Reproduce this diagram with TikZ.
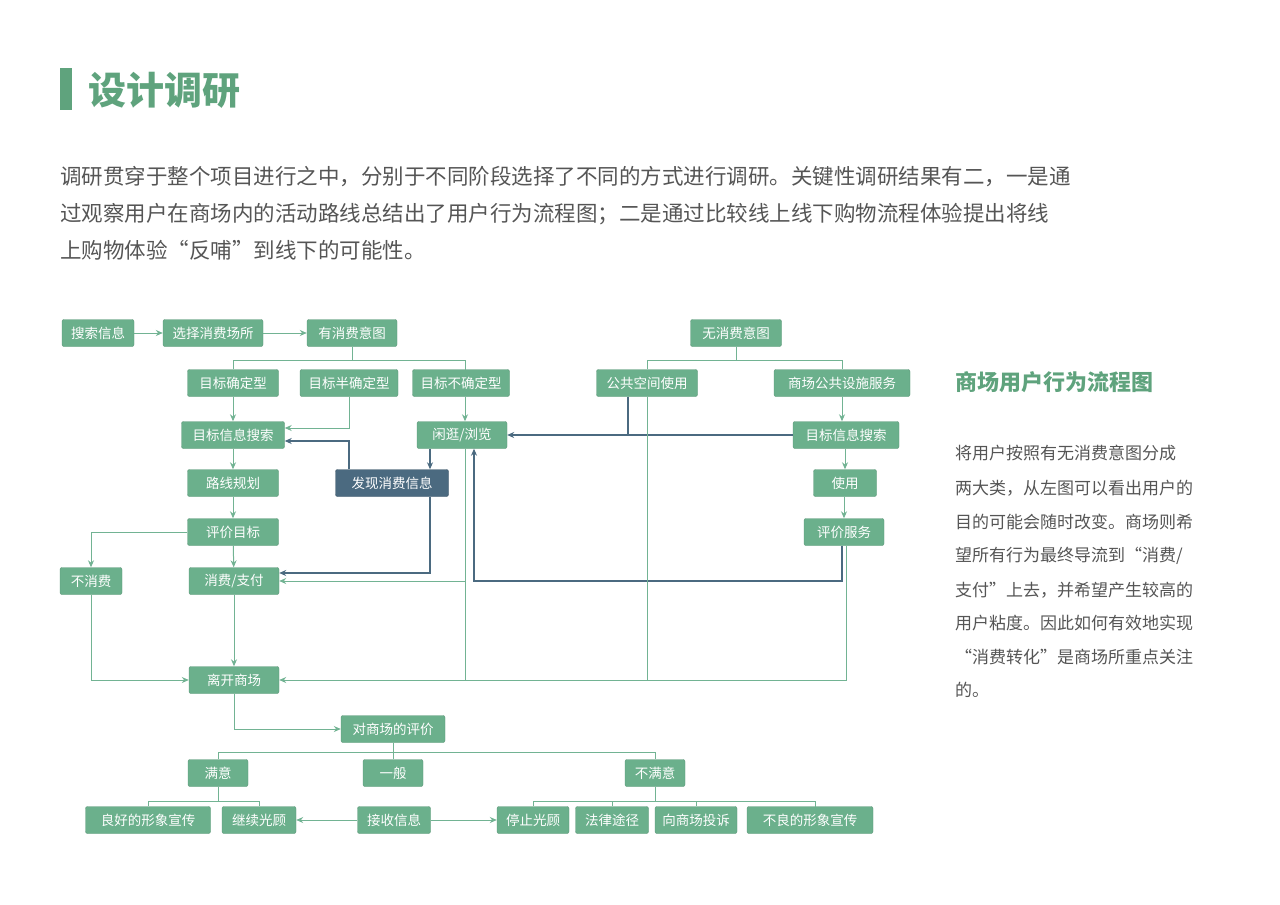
\documentclass[tikz,border=0pt]{standalone}
\usepackage{fontspec}
\setmainfont{Noto Sans CJK SC}
\usetikzlibrary{arrows.meta}
\definecolor{boxg}{HTML}{6BB08C}
\definecolor{lineg}{HTML}{72B393}
\definecolor{dark}{HTML}{4B6A80}
\definecolor{titleg}{HTML}{5FA37D}
\definecolor{txt}{HTML}{555555}
\begin{document}
\begin{tikzpicture}[x=1pt,y=-1pt,
  box/.style={rectangle,rounded corners=2pt,fill=boxg,draw=boxg!85!black,line width=0.4pt,text=white,minimum height=27pt,inner sep=0pt,font=\fontsize{13.5}{14}\selectfont},
  dbox/.style={box,fill=dark,draw=dark!80!black},
  gl/.style={draw=lineg,line width=1pt},
  dl/.style={draw=dark,line width=1.1pt},
  arr/.style={-{Stealth[length=7pt,width=6pt]}},
  ptxt/.style={anchor=west,inner sep=0pt,text=txt}]
\useasboundingbox (0,0) rectangle (1280,905);
\fill[titleg] (60,68) rectangle (72,110);
\node[anchor=west,inner sep=0pt,text=titleg,font=\fontsize{38}{40}\selectfont\bfseries] (title) at (88,90) {设计调研};
\begin{scope}[font=\fontsize{21.5}{22}\selectfont]
\node[ptxt] (p1) at (60,177) {调研贯穿于整个项目进行之中，分别于不同阶段选择了不同的方式进行调研。关键性调研结果有二，一是通};
\node[ptxt] (p2) at (60,214) {过观察用户在商场内的活动路线总结出了用户行为流程图；二是通过比较线上线下购物流程体验提出将线};
\node[ptxt] (p3) at (60,250) {上购物体验“反哺”到线下的可能性。};
\end{scope}
\node[anchor=west,inner sep=0pt,text=titleg,font=\fontsize{22}{24}\selectfont\bfseries] (rt) at (955,382) {商场用户行为流程图};
\begin{scope}[font=\fontsize{17}{18}\selectfont]
\node[ptxt] (r1) at (955,453) {将用户按照有无消费意图分成};
\node[ptxt] (r2) at (955,488) {两大类，从左图可以看出用户的};
\node[ptxt] (r3) at (955,522) {目的可能会随时改变。商场则希};
\node[ptxt] (r4) at (955,556) {望所有行为最终导流到“消费/};
\node[ptxt] (r5) at (955,590) {支付”上去，并希望产生较高的};
\node[ptxt] (r6) at (955,623) {用户粘度。因此如何有效地实现};
\node[ptxt] (r7) at (955,657) {“消费转化”是商场所重点关注};
\node[ptxt] (r8) at (955,690) {的。};
\end{scope}
% nodes
\node[box,minimum width=72] (ss) at (98,333) {搜索信息};
\node[box,minimum width=100] (xz) at (213,333) {选择消费场所};
\node[box,minimum width=90] (yx) at (352,333) {有消费意图};
\node[box,minimum width=91] (qd) at (233,383) {目标确定型};
\node[box,minimum width=98] (bq) at (349,383) {目标半确定型};
\node[box,minimum width=97] (bqd) at (461,383) {目标不确定型};
\node[box,minimum width=103] (ml) at (233,435) {目标信息搜索};
\node[box,minimum width=90] (xg) at (462,435) {闲逛/浏览};
\node[box,minimum width=91] (lx) at (233,483) {路线规划};
\node[dbox,minimum width=113] (fx) at (392,483) {发现消费信息};
\node[box,minimum width=91] (pj) at (233,532) {评价目标};
\node[box,minimum width=62] (bx) at (91,581) {不消费};
\node[box,minimum width=90] (zf) at (234,581) {消费/支付};
\node[box,minimum width=90] (lk) at (234,680) {离开商场};
\node[box,minimum width=104] (dpj) at (393,729) {对商场的评价};
\node[box,minimum width=60] (my) at (218,773) {满意};
\node[box,minimum width=60] (yb) at (393,773) {一般};
\node[box,minimum width=60] (bmy) at (655,773) {不满意};
\node[box,minimum width=125] (lh) at (148,820) {良好的形象宣传};
\node[box,minimum width=74] (jx) at (259,820) {继续光顾};
\node[box,minimum width=73] (js) at (394,820) {接收信息};
\node[box,minimum width=72] (tz) at (533,820) {停止光顾};
\node[box,minimum width=73] (fl) at (612,820) {法律途径};
\node[box,minimum width=82] (ts) at (696,820) {向商场投诉};
\node[box,minimum width=126] (bl) at (810,820) {不良的形象宣传};
\node[box,minimum width=91] (wx) at (736,333) {无消费意图};
\node[box,minimum width=101] (gg) at (647,383) {公共空间使用};
\node[box,minimum width=136] (ss2) at (842,383) {商场公共设施服务};
\node[box,minimum width=106] (mr) at (846,435) {目标信息搜索};
\node[box,minimum width=63] (sy) at (845,483) {使用};
\node[box,minimum width=80] (pf) at (844,532) {评价服务};
% connectors
\draw[gl,arr] (ss) -- (xz);
\draw[gl,arr] (xz) -- (yx);
\draw[gl] (yx.south) -- (352,360) coordinate (b1);
\draw[gl] (qd.north) -- (233,360) -- (465,360) -- (465,370);
\draw[gl,arr] (qd) -- (ml);
\draw[gl,arr] (bq.south) |- (ml.east |- 0,428);
\draw[dl,arr] (fx.north -| 349,0) |- (ml.east |- 0,441);
\draw[gl,arr] (bqd.south -| 465,0) -- (xg.north -| 465,0);
\draw[dl,arr] (xg.south -| 430,0) -- (fx.north -| 430,0);
\draw[dl,arr] (fx.south -| 430,0) |- (zf.east |- 0,573);
\draw[gl] (xg.south -| 465,0) -- (465,680) coordinate (j1);
\draw[gl,arr] (465,581) -- (zf.east);
\draw[gl,arr] (ml) -- (lx);
\draw[gl,arr] (lx) -- (pj);
\draw[gl,arr] (pj) -- (zf);
\draw[gl,arr] (zf) -- (lk);
\draw[gl,arr] (pj.west) -| (bx.north);
\draw[gl,arr] (bx.south) |- (lk.west);
\draw[gl] (wx.south) -- (736,360);
\draw[gl] (gg.north) -- (647,360) -- (842,360) -- (ss2.north);
\draw[gl,arr] (ss2) -- (ss2 |- mr.north);
\draw[gl,arr] (mr.south -| 845,0) -- (sy.north);
\draw[gl,arr] (sy.south -| 844,0) -- (pf.north);
\draw[dl,arr] (mr.west) -- (xg.east);
\draw[dl] (gg.south -| 628,0) -- (628,435);
\draw[dl,arr] (pf.south -| 842,0) |- (474,581) -- (xg.south -| 474,0);
\draw[gl] (gg.south) -- (647,680);
\draw[gl,arr] (pf.south -| 846,0) |- (lk.east);
\draw[gl,arr] (lk.south) |- (dpj.west);
\draw[gl] (dpj.south) -- (393,752);
\draw[gl] (my.north) -- (218,752) -- (655,752) -- (bmy.north);
\draw[gl] (393,752) -- (yb.north);
\draw[gl] (my.south) -- (218,801);
\draw[gl] (lh.north) -- (148,801) -- (259,801) -- (jx.north);
\draw[gl] (bmy.south) -- (655,801);
\draw[gl] (tz.north) -- (533,801) -- (815,801) -- (815,807);
\draw[gl] (612,801) -- (fl.north);
\draw[gl] (696,801) -- (ts.north);
\draw[gl,arr] (js) -- (jx);
\draw[gl,arr] (js) -- (tz);
\end{tikzpicture}
\end{document}
